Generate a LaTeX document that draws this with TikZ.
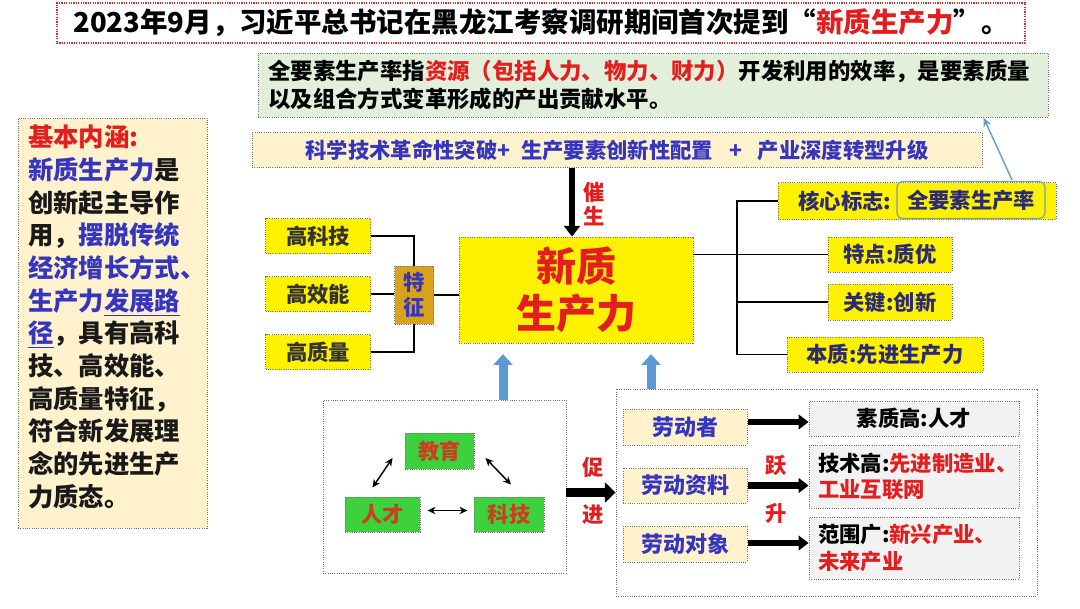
\documentclass[tikz,border=0pt]{standalone}
\usepackage{fontspec}
\setmainfont{Noto Sans CJK SC}
\usetikzlibrary{arrows.meta}
\definecolor{cream}{HTML}{FFF2CC}
\definecolor{lgreen}{HTML}{E2EFDA}
\definecolor{myblue}{HTML}{3535C0}
\definecolor{myred}{HTML}{E41E1E}
\definecolor{navy}{HTML}{2B2B73}
\definecolor{gold}{HTML}{D9A21B}
\definecolor{grn}{HTML}{3ED13E}
\definecolor{arrowblue}{HTML}{5B9BD5}
\definecolor{thinblue}{HTML}{6A9FC7}
\definecolor{lgray}{HTML}{F2F2F2}
\definecolor{brick}{HTML}{C8401E}
\definecolor{tealgray}{HTML}{7BA0A8}
\definecolor{dgray}{HTML}{333333}
\definecolor{dotred}{HTML}{C03030}
\begin{document}
\begin{tikzpicture}[x=0.75pt,y=-0.75pt,
  dotbox/.style={draw=black!55, densely dotted, line width=0.7pt, inner sep=0pt},
  sz/.style 2 args={minimum width=#1*0.75pt, minimum height=#2*0.75pt},
  fM/.style={font=\fontsize{16pt}{19pt}\selectfont\bfseries},
  ybox/.style={dotbox, fill=yellow, fM},
  bluearrow/.style={draw=arrowblue, line width=6.75pt, -{Triangle[length=8pt, width=14pt]}},
  blkarrow/.style={line width=5pt, -{Triangle[length=7.5pt, width=11pt]}},
  dbl/.style={line width=1.1pt, {Stealth[length=6pt,width=5.5pt]}-{Stealth[length=6pt,width=5.5pt]}},
  redlab/.style={text=myred, fM}
]
\useasboundingbox (0,0) rectangle (1080,608);
\fill[white] (0,0) rectangle (1080,608);

% title
\node[draw=dotred, dash pattern=on 0.9pt off 0.9pt, line width=1.1pt, inner sep=0pt, sz={968}{40}, font=\fontsize{20.6pt}{24pt}\selectfont\bfseries] (title) at (541,23)
  {2023年9月，习近平总书记在黑龙江考察调研期间首次提到“\textcolor{myred}{新质生产力}”。};

% definition (green)
\node[dotbox, fill=lgreen, sz={790}{64}, align=left, text width=577pt,
  font=\fontsize{16.8pt}{20.5pt}\selectfont\bfseries] (def) at (653,85)
  {全要素生产率指\textcolor{myred}{资源（包括人力、物力、财力）}开发利用的效率，是要素质量\\以及组合方式变革形成的产出贡献水平。};

% left box
\node[dotbox, fill=cream, sz={189}{410}] (kb) at (112.5,323) {};
\node[anchor=north west, align=left, inner sep=0pt, font=\fontsize{19pt}{24.5pt}\selectfont\bfseries, text=black!90] (kbt) at (28,125)
  {\textcolor{myred}{基本内涵:}\\
   \textcolor{myblue}{新质生产力}是\\
   创新起主导作\\
   用，\textcolor{myblue}{摆脱传统}\\
   \textcolor{myblue}{经济增长方式、}\\
   \textcolor{myblue}{生产力\underline{发展路}}\\
   \textcolor{myblue}{\underline{径}}，具有高科\\
   技、高效能、\\
   高质量特征，\\
   符合新发展理\\
   念的先进生产\\
   力质态。};

% factors
\node[dotbox, fill=cream, sz={730}{35}, text=myblue, font=\fontsize{16pt}{19pt}\selectfont\bfseries] (fac) at (617,150)
  {科学技术革命性突破+\hspace{8pt}生产要素创新性配置\hspace{12pt}+\hspace{12pt}产业深度转型升级};

% main
\node[dotbox, fill=yellow, sz={234}{106}, align=center, text=myred, font=\fontsize{30pt}{35pt}\selectfont\bfseries] (main) at (576,290) {新质\\生产力};

% catalyze arrow
\coordinate (c0) at ([shift={(-4,0)}]main.north);
\draw[line width=4.5pt, -{Triangle[length=8pt, width=12pt]}] (c0 |- fac.south) -- (c0);
\node[redlab, align=center, font=\fontsize{16pt}{18.5pt}\selectfont\bfseries] (cs) at (594,204) {催\\生};

% left features
\node[ybox, sz={105}{35}, text=dgray] (gkj) at (318,236) {高科技};
\node[ybox, sz={105}{35}, text=dgray] (gxn) at (318,294) {高效能};
\node[ybox, sz={105}{35}, text=dgray] (gzl) at (318,352) {高质量};
\node[dotbox, fill=gold, sz={39}{58}, align=center, text=myblue, font=\fontsize{16pt}{19pt}\selectfont\bfseries] (tz) at (414,295) {特\\征};
\draw[line width=1.1pt] (gkj.east) -| (tz.north);
\draw[line width=1.1pt] (gzl.east) -| (tz.south);
\draw[line width=1.1pt] (gxn.east) -- (gxn.east -| tz.west);
\draw[line width=1.1pt] (tz.east) -- (tz.east -| main.west);

% right side
\node[ybox, sz={278}{37}] (hx) at (917,201) {};
\node[fM, text=navy, inner sep=0pt] (hxl) at (845,201) {核心标志:};
\node[draw=tealgray, line width=0.9pt, rounded corners=4pt, sz={148}{37}, inner sep=0pt, fM, text=navy] (qys) at (971,200) {全要素生产率};
\node[ybox, sz={124}{35}, text=navy] (td) at (890,254.5) {特点:质优};
\node[ybox, sz={124}{36}, text=navy] (gj) at (890,302) {关键:创新};
\node[ybox, sz={196}{35}, text=navy] (bz) at (885,354.5) {本质:先进生产力};
\coordinate (tr) at (737,0);
\draw[line width=1.1pt] (hx.west) -- (hx.west -| tr) |- (bz.west);
\draw[line width=1.1pt] (gj.west) -- (gj.west -| tr);
\draw[line width=1.1pt] (main.east |- td.west) -- (td.west);
\draw[thinblue, line width=1.1pt, -{Stealth[length=7pt,width=6pt]}] ([shift={(41,-1)}]qys.north) -- ([shift={(-65,0)}]def.south east);

% bottom-left box
\node[dotbox, sz={243}{173}] (edu) at (444.5,486.5) {};
\node[dotbox, fill=grn, sz={69}{36}, text=brick, fM] (jy) at (439.5,451) {教育};
\node[dotbox, fill=grn, sz={75}{35}, text=brick, fM] (rc) at (382.5,514.5) {人才};
\node[dotbox, fill=grn, sz={70}{35}, text=brick, fM] (kj) at (509,514.5) {科技};
\draw[dbl] ([shift={(-12,7)}]jy.west) -- ([shift={(-10,-9)}]rc.north);
\draw[dbl] ([shift={(11,7)}]jy.east) -- ([shift={(2,-12)}]kj.north);
\draw[dbl] ([shift={(7,-4)}]rc.east) -- ([shift={(-6,-4)}]kj.west);

% bottom-right box
\node[dotbox, sz={421}{207}] (lab) at (826.5,492.5) {};
\draw[line width=7pt, -{Triangle[length=8pt, width=15pt]}] (edu.east |- lab.west) -- (lab.west);
\node[redlab] (cu) at (593,467) {促};
\node[redlab] (jin) at (593,515) {进};

% blue up arrows
\coordinate (b1) at ([shift={(58.5,0)}]edu.north);
\draw[bluearrow, shorten >=8pt] (b1) -- (b1 |- main.south);
\coordinate (b2) at ([shift={(-175.5,0)}]lab.north);
\draw[bluearrow, shorten >=8pt] (b2) -- (b2 |- main.south);

\node[dotbox, fill=cream, sz={124}{36}, text=myblue, font=\fontsize{16.5pt}{19pt}\selectfont\bfseries] (ldz) at (685,427) {劳动者};
\node[dotbox, fill=cream, sz={124}{35}, text=myblue, font=\fontsize{16.5pt}{19pt}\selectfont\bfseries] (ldzl) at (685,485.5) {劳动资料};
\node[dotbox, fill=cream, sz={124}{36}, text=myblue, font=\fontsize{16.5pt}{19pt}\selectfont\bfseries] (lddx) at (685,544) {劳动对象};

\node[dotbox, fill=lgray, sz={210}{35}, fM, text=black] (s1) at (914,418.5) {素质高:人才};
\node[dotbox, fill=lgray, sz={210}{63}, align=left, text width=144pt, text=black, font=\fontsize{16pt}{19pt}\selectfont\bfseries] (s2) at (914,476.5)
  {技术高:\textcolor{myred}{先进制造业、}\\\textcolor{myred}{工业互联网}};
\node[dotbox, fill=lgray, sz={210}{62}, align=left, text width=144pt, text=black, font=\fontsize{16pt}{20pt}\selectfont\bfseries] (s3) at (914,548)
  {范围广:\textcolor{myred}{新兴产业、}\\\textcolor{myred}{未来产业}};

\coordinate (a1) at ([shift={(1,-5)}]ldz.east);
\coordinate (a2) at ([shift={(1,0)}]ldzl.east);
\coordinate (a3) at ([shift={(1,-1)}]lddx.east);
\draw[blkarrow] (a1) -- (a1 -| s1.west);
\draw[blkarrow] (a2) -- (a2 -| s2.west);
\draw[blkarrow] (a3) -- (a3 -| s3.west);
\node[redlab] (yue) at (776,465) {跃};
\node[redlab] (sheng) at (776,513) {升};
\end{tikzpicture}
\end{document}
